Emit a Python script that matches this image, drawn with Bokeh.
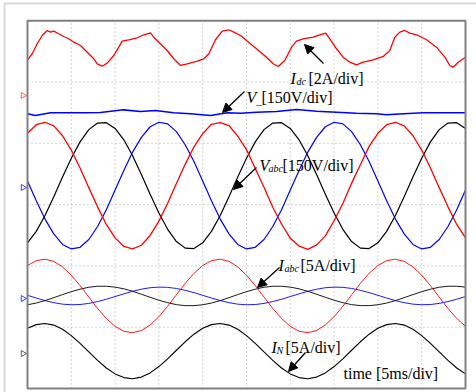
from bokeh.plotting import figure
from bokeh.models import Range1d, Arrow, NormalHead
from bokeh.core.properties import value
from bokeh.embed import file_html
from bokeh.resources import INLINE
import math

# ---------------- data ----------------
# time axis, ms (5 ms/div)
time_ms = [0, 1, 2, 3, 4, 5, 6, 7, 8, 9, 10, 11, 12, 13, 14, 15, 16, 17, 18, 19,
           20, 21, 22, 23, 24, 25, 26, 27, 28, 29, 30, 31, 32, 33, 34, 35, 36, 37, 38, 39,
           40, 41, 42, 43, 44, 45, 46, 47, 48, 49, 50]

# phase voltages, V (150 V/div)
v_a = [128, 149, 155, 146, 122, 87, 43, -5, -52, -95, -128, -149, -155, -146, -122, -87, -43, 5, 52, 95,
       127, 150, 154, 147, 121, 88, 42, -4, -53, -94, -129, -148, -156, -145, -123, -86, -44, 6, 51, 96,
       128, 149, 155, 146, 122, 87, 43, -5, -52, -95, -128]
v_b = [-140, -112, -73, -27, 21, 67, 107, 137, 153, 154, 140, 112, 73, 27, -21, -67, -107, -137, -153, -154,
       -140, -112, -73, -27, 21, 67, 107, 137, 153, 154, 140, 112, 73, 27, -21, -67, -107, -137, -153, -154,
       -140, -112, -73, -27, 21, 67, 107, 137, 153, 154, 140]
v_c = [11, -37, -82, -118, -144, -155, -151, -132, -100, -59, -11, 37, 82, 118, 144, 155, 151, 132, 100, 59,
       11, -37, -82, -118, -144, -155, -151, -132, -100, -59, -11, 37, 82, 118, 144, 155, 151, 132, 100, 59,
       11, -37, -82, -118, -144, -155, -151, -132, -100, -59, -11]

# phase currents, A (5 A/div)
i_a = [2.48, 2.88, 3.00, 2.82, 2.37, 1.69, 0.84, -0.09, -1.02, -1.84, -2.48, -2.88, -3.00, -2.82, -2.37, -1.69, -0.84, 0.09, 1.02, 1.84,
       2.48, 2.88, 3.00, 2.82, 2.37, 1.69, 0.84, -0.09, -1.02, -1.84, -2.48, -2.88, -3.00, -2.82, -2.37, -1.69, -0.84, 0.09, 1.02, 1.84,
       2.48, 2.88, 3.00, 2.82, 2.37, 1.69, 0.84, -0.09, -1.02, -1.84, -2.48]
i_b = [-0.72, -0.58, -0.38, -0.14, 0.11, 0.35, 0.55, 0.71, 0.79, 0.79, 0.72, 0.58, 0.38, 0.14, -0.11, -0.35, -0.55, -0.71, -0.79, -0.79,
       -0.72, -0.58, -0.38, -0.14, 0.11, 0.35, 0.55, 0.71, 0.79, 0.79, 0.72, 0.58, 0.38, 0.14, -0.11, -0.35, -0.55, -0.71, -0.79, -0.79,
       -0.72, -0.58, -0.38, -0.14, 0.11, 0.35, 0.55, 0.71, 0.79, 0.79, 0.72]
i_c = [0.05, -0.17, -0.38, -0.55, -0.67, -0.72, -0.70, -0.61, -0.46, -0.27, -0.05, 0.17, 0.38, 0.55, 0.67, 0.72, 0.70, 0.61, 0.46, 0.27,
       0.05, -0.17, -0.38, -0.55, -0.67, -0.72, -0.70, -0.61, -0.46, -0.27, -0.05, 0.17, 0.38, 0.55, 0.67, 0.72, 0.70, 0.61, 0.46, 0.27,
       0.05, -0.17, -0.38, -0.55, -0.67, -0.72, -0.70, -0.61, -0.46, -0.27, -0.05]
# neutral current, A (5 A/div)
i_n = [1.86, 2.16, 2.25, 2.12, 1.78, 1.26, 0.63, -0.07, -0.76, -1.38, -1.86, -2.16, -2.25, -2.12, -1.78, -1.26, -0.63, 0.07, 0.76, 1.38,
       1.86, 2.16, 2.25, 2.12, 1.78, 1.26, 0.63, -0.07, -0.76, -1.38, -1.86, -2.16, -2.25, -2.12, -1.78, -1.26, -0.63, 0.07, 0.76, 1.38,
       1.86, 2.16, 2.25, 2.12, 1.78, 1.26, 0.63, -0.07, -0.76, -1.38, -1.86]

# V_ ripple, V (150 V/div)
vneg_t = [0, 0.91, 2.63, 6.39, 8.33, 10.96, 12.9, 14.61, 16.67, 18.61, 20.89, 22.83, 24.32, 26.14,
          28.43, 30.71, 32.99, 35.28, 37.56, 39.84, 40.98, 42.92, 45.21, 50]
vneg = [-0.7, -4.9, 1.7, 1.7, 2.4, 9.0, 4.9, 7.3, 1.7, -0.7, -4.9, 1.7, 0.7, 3.2,
        4.9, 9.8, 5.6, 3.2, 0.7, -0.7, -3.2, -0.7, 1.7, 1.7]

# DC current, A (2 A/div)
idc_t = [0, 0.54, 1.11, 1.68, 2.25, 2.63, 3.00, 3.57, 4.14, 4.71, 5.29, 6.05, 6.82, 7.57, 7.96, 8.53,
         9.10, 9.85, 10.42, 10.81, 11.56, 12.52, 13.28, 14.04, 14.42, 15.18, 15.95, 16.70, 17.47, 18.23,
         19.37, 20.13, 20.70, 21.46, 22.23, 22.98, 23.55, 24.32, 25.00, 26.14, 27.28, 28.05, 28.62, 29.37,
         30.14, 30.71, 31.47, 32.62, 33.37, 34.05, 34.51, 35.28, 36.04, 36.79, 37.56, 38.32, 39.46, 40.61,
         41.36, 41.93, 42.50, 43.07, 43.64, 44.60, 45.55, 46.69, 47.64, 48.21, 48.60, 49.17, 50.00]
idc = [1.165, 1.361, 1.687, 1.958, 2.121, 2.066, 2.098, 2.013, 1.925, 1.850, 1.739, 1.632, 1.413, 1.198, 1.034, 0.956,
       1.054, 1.305, 1.576, 1.772, 1.818, 1.883, 1.981, 2.046, 1.902, 1.687, 1.468, 1.198, 0.979, 1.034,
       1.119, 1.198, 1.361, 1.818, 2.098, 2.144, 2.066, 1.958, 1.795, 1.524, 1.250, 1.034, 0.946, 1.142,
       1.576, 1.772, 1.850, 1.902, 1.981, 2.033, 1.850, 1.524, 1.250, 1.087, 1.002, 1.087, 1.165, 1.273,
       1.468, 1.902, 2.066, 2.121, 2.033, 1.958, 1.818, 1.576, 1.250, 0.979, 0.923, 1.087, 1.250]

# ---------------- layout helpers (screen px -> data) ----------------
MS_PER_PX = 5 / 43.8
DIV_PER_PX = 1 / 61.3


def X(px):
    return (px - 27) * MS_PER_PX


def Y(py):
    return (388 - py) * DIV_PER_PX


def scaled(vals, offset, per_div):
    return [offset + v / per_div for v in vals]


p = figure(width=476, height=392, output_backend="svg", toolbar_location=None,
           x_range=Range1d(X(0), X(476)), y_range=Range1d(Y(392), Y(0)),
           x_axis_location=None, y_axis_location=None,
           min_border=0, min_border_left=0, min_border_right=0,
           min_border_top=0, min_border_bottom=0)
p.outline_line_color = None
p.grid.visible = False
p.background_fill_color = "white"
p.border_fill_color = "white"

# outer light frame
p.line([X(4), X(4), X(476)], [Y(392), Y(3), Y(3)], line_color="#d9d9d9", line_width=2)

# dotted graticule
p.segment(x0=[5 * k for k in range(1, 10)], y0=[0] * 9, x1=[5 * k for k in range(1, 10)], y1=[6] * 9,
          line_color="#a6a6a6", line_width=1, line_dash="1 3")
p.segment(x0=[0] * 5, y0=[1, 2, 3, 4, 5], x1=[50] * 5, y1=[1, 2, 3, 4, 5],
          line_color="#a6a6a6", line_width=1, line_dash="1 3")

# channel offsets (division positions on screen)
OFF_IDC, OFF_VNEG, OFF_V, OFF_I, OFF_N = 4.78, 4.486, 3.31, 1.51, 0.61

RED, BLUE, BLACK = "#ff0000", "#0000ff", "#000000"

p.line(idc_t, scaled(idc, OFF_IDC, 2), line_color=RED, line_width=1.3)
p.line(vneg_t, scaled(vneg, OFF_VNEG, 150), line_color=BLUE, line_width=1.6)
p.line(time_ms, scaled(v_c, OFF_V, 150), line_color=BLUE, line_width=1.2)
p.line(time_ms, scaled(v_b, OFF_V, 150), line_color=BLACK, line_width=1.2)
p.line(time_ms, scaled(v_a, OFF_V, 150), line_color=RED, line_width=1.3)
p.line(time_ms, scaled(i_c, OFF_I, 5), line_color=BLUE, line_width=0.9)
p.line(time_ms, scaled(i_b, OFF_I, 5), line_color=BLACK, line_width=0.9)
p.line(time_ms, scaled(i_a, OFF_I, 5), line_color=RED, line_width=0.9)
p.line(time_ms, scaled(i_n, OFF_N, 5), line_color=BLACK, line_width=1.1)

# scope frame
p.quad(left=[0], right=[50], bottom=[0], top=[6], fill_color=None,
       line_color="#808080", line_width=2)

# channel ground markers
p.scatter([X(22.5), X(22.5), X(22.5), X(22.5)], [Y(95), Y(187), Y(298), Y(353)],
          marker="triangle", angle=-math.pi / 2, size=6, fill_color=None,
          line_color=["#ff6060", "#4040ff", "#4040ff", "#606060"], line_width=1)

SERIF = value("Liberation Serif")


def txt(px, py, s, size="16px", style="normal"):
    p.text(x=[X(px)], y=[Y(py)], text=[s], text_font=SERIF, text_font_size=size,
           text_font_style=style, text_color="black", text_align="left",
           text_baseline="alphabetic")


def arrow(x0, y0, x1, y1):
    p.add_layout(Arrow(end=NormalHead(size=9, fill_color="black", line_color="black"),
                       x_start=X(x0), y_start=Y(y0), x_end=X(x1), y_end=Y(y1),
                       line_color="black", line_width=1.3))


# I_dc [2A/div]
txt(290, 78, "I", style="italic")
txt(296, 81, "dc", size="10px", style="italic")
txt(308, 78, "[2A/div]")
arrow(323, 63, 304, 44)

# V_ [150V/div]
txt(246, 97, "V", style="italic")
txt(256, 99, "_", size="11px")
txt(261, 97, "[150V/div]")
arrow(244, 91, 222, 112)

# V_abc [150V/div]
txt(259, 165, "V", style="italic")
txt(268, 168, "abc", size="10px", style="italic")
txt(282, 165, "[150V/div]")
arrow(256, 167, 233, 189)

# I_abc [5A/div]
txt(278, 265, "I", style="italic")
txt(284, 268, "abc", size="10px", style="italic")
txt(300, 265, "[5A/div]")
arrow(279, 267, 257, 287)

# I_N [5A/div]
txt(271, 347, "I", style="italic")
txt(276, 350, "N", size="10px", style="italic")
txt(285, 347, "[5A/div]")
arrow(305, 352, 288, 371)

# time [5ms/div]
txt(343, 373, "time [5ms/div]")

open("out.html", "w").write(file_html(p, INLINE))
